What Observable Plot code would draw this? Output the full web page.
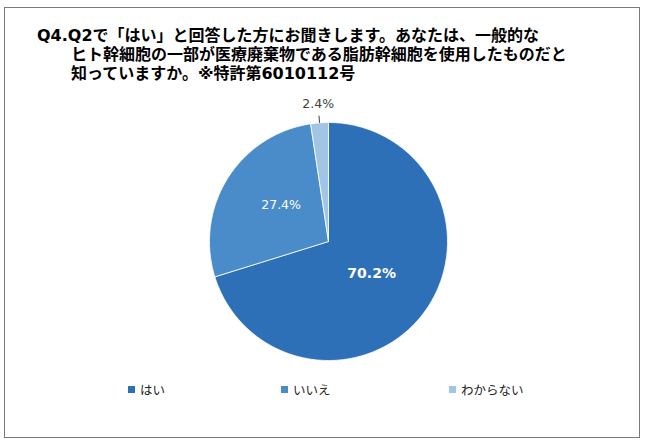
<!DOCTYPE html>
<html><head><meta charset="utf-8">
<script src="https://cdn.jsdelivr.net/npm/d3@7"></script>
<script src="https://cdn.jsdelivr.net/npm/@observablehq/plot@0.6"></script>
<style>
html,body{margin:0;padding:0;background:#fff;}
#wrap{position:relative;width:650px;height:446px;overflow:hidden;font-family:"Noto Sans CJK JP",sans-serif;}
#frame{position:absolute;left:4px;top:7px;width:636px;height:431px;border:1.5px solid #7a7a7a;box-sizing:border-box;}
#title{position:absolute;left:37px;top:26px;font-size:16px;font-weight:bold;line-height:19px;color:#000;white-space:nowrap;
  font-family:"DejaVu Sans","Noto Sans CJK JP",sans-serif;padding-left:34px;text-indent:-34px;}
#chart{position:absolute;left:0;top:95px;}
.leg{position:absolute;top:380px;font-size:12.5px;color:#222;display:flex;align-items:center;white-space:nowrap;}
.leg span.sw{display:inline-block;width:7px;height:7px;margin-right:5px;}
</style></head>
<body><div id="wrap">
<div id="frame"></div>
<div id="title"></div>
<div id="chart"></div>
<div id="legend"></div>
</div>
<script>
const titleLines = ["Q4.Q2で「はい」と回答した方にお聞きします。あなたは、一般的な","ヒト幹細胞の一部が医療廃棄物である脂肪幹細胞を使用したものだと","知っていますか。※特許第6010112号"];
const categories = ["はい","いいえ","わからない"];
const values = [70.2, 27.4, 2.4];
const colors = ["#2E70B8","#4A8BC9","#A3C5E5"];

// title (single block, lines separated by <br>)
const t = document.getElementById("title");
titleLines.forEach((s,i)=>{ if(i>0) t.appendChild(document.createElement("br")); t.appendChild(document.createTextNode(s)); });

// pie geometry from data
const arcs = d3.pie().sort(null).value(d=>d.value)(categories.map((c,i)=>({category:c,value:values[i]})));
const poly = [];
arcs.forEach(a=>{
  const c = a.data.category;
  poly.push({category:c,x:0,y:0});
  const n = Math.max(2, Math.ceil((a.endAngle-a.startAngle)/0.01));
  for(let k=0;k<=n;k++){const ang=a.startAngle+(a.endAngle-a.startAngle)*k/n;poly.push({category:c,x:Math.sin(ang),y:Math.cos(ang)});}
  poly.push({category:c,x:0,y:0});
});
const labels = arcs.map(a=>{
  const mid=(a.startAngle+a.endAngle)/2;
  const outside = a.data.value < 5;
  const f = outside ? 1.155 : (a.index===0 ? 0.45 : 0.47);
  return {category:a.data.category,label:a.data.value.toFixed(1)+"%",x:Math.sin(mid)*f,y:Math.cos(mid)*f,outside,mid,big:a.index===0};
});
const leaders = labels.filter(d=>d.outside).map(d=>({x1:Math.sin(d.mid)*1.0,y1:Math.cos(d.mid)*1.0,x2:Math.sin(d.mid)*1.06,y2:Math.cos(d.mid)*1.06}));

const cx=328, cy=146, r=119;
const plot = Plot.plot({
  width:650, height:290,
  margin:0,
  x:{domain:[-1,1], range:[cx-r,cx+r], axis:null},
  y:{domain:[-1,1], range:[cy+r,cy-r], axis:null},
  color:{domain:categories, range:colors},
  marks:[
    Plot.line(poly,{x:"x",y:"y",z:"category",fill:"category",stroke:"white",strokeWidth:0.8,curve:"linear"}),
    Plot.link(leaders,{x1:"x1",y1:"y1",x2:"x2",y2:"y2",stroke:"#404040",strokeWidth:1}),
    Plot.text(labels.filter(d=>d.big),{x:"x",y:"y",text:"label",fill:"white",fontSize:14,fontWeight:"bold",fontFamily:"DejaVu Sans"}),
    Plot.text(labels.filter(d=>!d.big&&!d.outside),{x:"x",y:"y",dy:-7,text:"label",fill:"white",fontSize:12.5,fontFamily:"DejaVu Sans"}),
    Plot.text(labels.filter(d=>d.outside),{x:"x",y:"y",text:"label",fill:"#404040",fontSize:12.5,fontFamily:"DejaVu Sans"})
  ]
});
document.getElementById("chart").appendChild(plot);

// legend
const legX=[128,281,449];
const lg=document.getElementById("legend");
categories.forEach((c,i)=>{
  const d=document.createElement("div");d.className="leg";d.style.left=legX[i]+"px";
  const sw=document.createElement("span");sw.className="sw";sw.style.background=colors[i];
  d.appendChild(sw);d.appendChild(document.createTextNode(c));lg.appendChild(d);
});
</script>
</body></html>
